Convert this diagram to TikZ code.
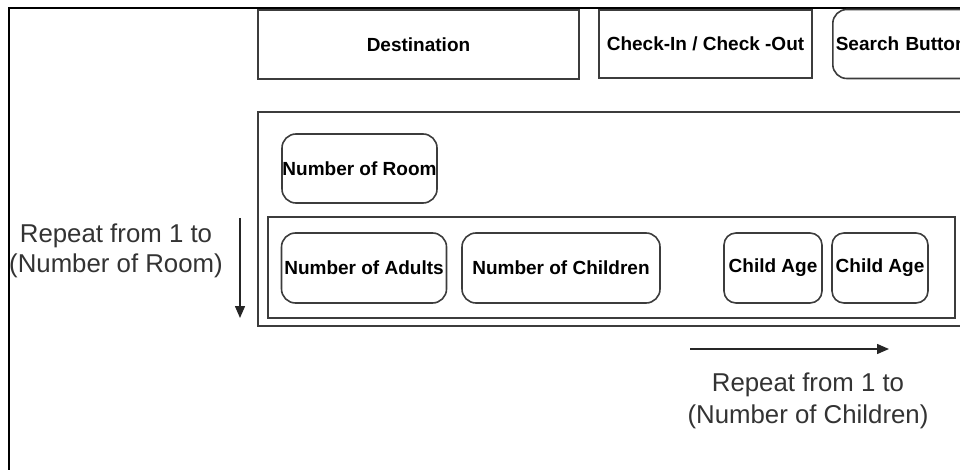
\documentclass[tikz,border=0pt]{standalone}
\usepackage{fontspec}
\setmainfont{Liberation Sans}
\usetikzlibrary{arrows.meta}
\definecolor{edge}{HTML}{3C3C3C}
\definecolor{note}{HTML}{333333}
\begin{document}
\begin{tikzpicture}[x=1pt,y=-1pt,
  field/.style={draw=edge,line width=1.6pt,inner sep=0pt,
    font=\fontsize{19}{22}\selectfont\bfseries},
  pill/.style={field,rounded corners=14pt},
  frame/.style={draw=edge,line width=1.6pt},
  remark/.style={font=\fontsize{25.8}{30}\selectfont,text=note,align=center,inner sep=0pt},
  flow/.style={draw=black!85,line width=1.4pt,-{Triangle[length=12pt,width=10pt]}}]
\useasboundingbox (0,0) rectangle (960,470);
\clip (0,0) rectangle (960,470);

% outer window frame
\draw[black,line width=2pt] (9,480) -- (9,8) -- (970,8);

% top row of search fields
\node[field,minimum width=321pt,minimum height=69pt] (dest) at (418.5,44.5) {Destination};
\node[field,minimum width=213pt,minimum height=68pt] (dates) at (705.5,44) {Check-In / Check -Out};
\node[pill,minimum width=150pt,minimum height=69pt,anchor=west,align=left,
      text width=146pt] (search) at (832,44) {\hspace*{1pt}Search Button};

% room block
\draw[frame] (258,112) rectangle (990,326);
\node[pill,minimum width=155pt,minimum height=69pt] (rooms) at (359.5,168.5) {Number of Room};

% per-room occupants row
\draw[frame] (268,217) rectangle (955,318);
\node[pill,minimum width=165pt,minimum height=70pt] (adults) at (364,268) {Number of Adults};
\node[pill,minimum width=198pt,minimum height=70pt] (children) at (561,268) {Number of Children};
\node[pill,minimum width=98pt,minimum height=70pt,rounded corners=12pt] (age1) at (773,268) {Child Age};
\node[pill,minimum width=96pt,minimum height=70pt,rounded corners=12pt] (age2) at (880,268) {Child Age};

% repetition hints
\coordinate (vtop) at (240,218);
\coordinate (vbot) at (240,318);
\draw[flow] (vtop) -- (vbot);
\node[remark] (roomnote) at (116,251) {Repeat from 1 to\\(Number of Room)};

\coordinate (hleft) at (690,349);
\coordinate (hright) at (889,349);
\draw[flow] (hleft) -- (hright);
\node[remark,font=\fontsize{25.8}{32}\selectfont] (childnote) at (808,401) {Repeat from 1 to\\(Number of Children)};
\end{tikzpicture}
\end{document}
